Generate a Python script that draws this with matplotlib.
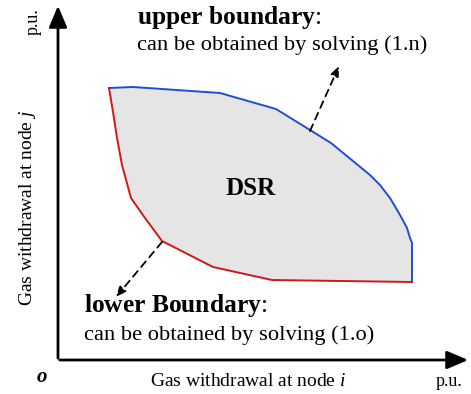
import matplotlib
matplotlib.use('Agg')
import matplotlib.pyplot as plt
import numpy as np

plt.rcParams['font.family'] = 'Liberation Serif'
plt.rcParams['mathtext.fontset'] = 'custom'
plt.rcParams['mathtext.rm'] = 'Liberation Serif'
plt.rcParams['mathtext.bf'] = 'Liberation Serif:bold'
plt.rcParams['mathtext.it'] = 'Liberation Serif:italic'

# boundary points of the DSR region (picture coordinates, y down)
upper_x = [109, 133, 220, 276, 310, 331, 370, 380, 390, 400, 407, 410, 412, 412]
upper_y = [88, 87, 93, 109, 130, 143, 175, 185, 198, 215, 228, 238, 243, 282]
lower_x = [109, 113, 117, 122, 131, 145, 162, 213, 272, 412]
lower_y = [88, 112, 138, 165, 198, 218, 241, 267, 280, 282]

# dashed pointer arrows: (start, end)
upper_arrow = [(310, 131), (339, 66)]
lower_arrow = [(162, 242), (116, 297)]

fig = plt.figure(figsize=(4.71, 3.94), dpi=100)
ax = fig.add_axes([0, 0, 1, 1])
ax.set_xlim(0, 471)
ax.set_ylim(394, 0)
ax.axis('off')

# region fill
poly_x = upper_x + lower_x[::-1]
poly_y = upper_y + lower_y[::-1]
ax.fill(poly_x, poly_y, color='#e5e5e5', zorder=1, lw=0)
ax.plot(upper_x, upper_y, color='#1f4fd0', lw=1.4, zorder=2)
ax.plot(lower_x, lower_y, color='#d01818', lw=1.4, zorder=2)

# axes arrows
ax.annotate('', xy=(58, 3), xytext=(58, 361),
            arrowprops=dict(arrowstyle='-|>,head_length=1.3,head_width=0.55', color='black', lw=2))
ax.annotate('', xy=(471, 360), xytext=(57, 360),
            arrowprops=dict(arrowstyle='-|>,head_length=1.3,head_width=0.55', color='black', lw=2))

# dashed pointers
for a in [upper_arrow, lower_arrow]:
    ax.annotate('', xy=a[1], xytext=a[0],
                arrowprops=dict(arrowstyle='-|>,head_length=0.6,head_width=0.25', color='black',
                                lw=1.3, linestyle=(0, (4, 3)), shrinkA=0, shrinkB=0))

ax.text(137, 24, r'$\mathbf{upper\ boundary}$:', fontsize=18.4, va='baseline')
ax.text(137, 50, 'can be obtained by solving (1.n)', fontsize=16.2, va='baseline')
ax.text(84, 312, r'$\mathbf{lower\ Boundary}$:', fontsize=18.4, va='baseline')
ax.text(84, 340, 'can be obtained by solving (1.o)', fontsize=16.2, va='baseline')
ax.text(251, 188, 'DSR', fontsize=18, fontweight='bold', ha='center', va='center')

ax.text(248, 382, r'Gas withdrawal at node $\mathit{i}$', fontsize=14, ha='center', va='center')
ax.text(449, 382, 'p.u.', fontsize=13, ha='center', va='center')
ax.text(42, 377, 'o', fontsize=15, fontweight='bold', style='italic', ha='center', va='center')
ax.text(28, 208, r'Gas withdrawal at node $\mathit{j}$', fontsize=14, rotation=90,
        ha='center', va='center')
ax.text(33, 22, 'p.u.', fontsize=13, rotation=90, ha='center', va='center')

fig.savefig('out.png', dpi=100)
